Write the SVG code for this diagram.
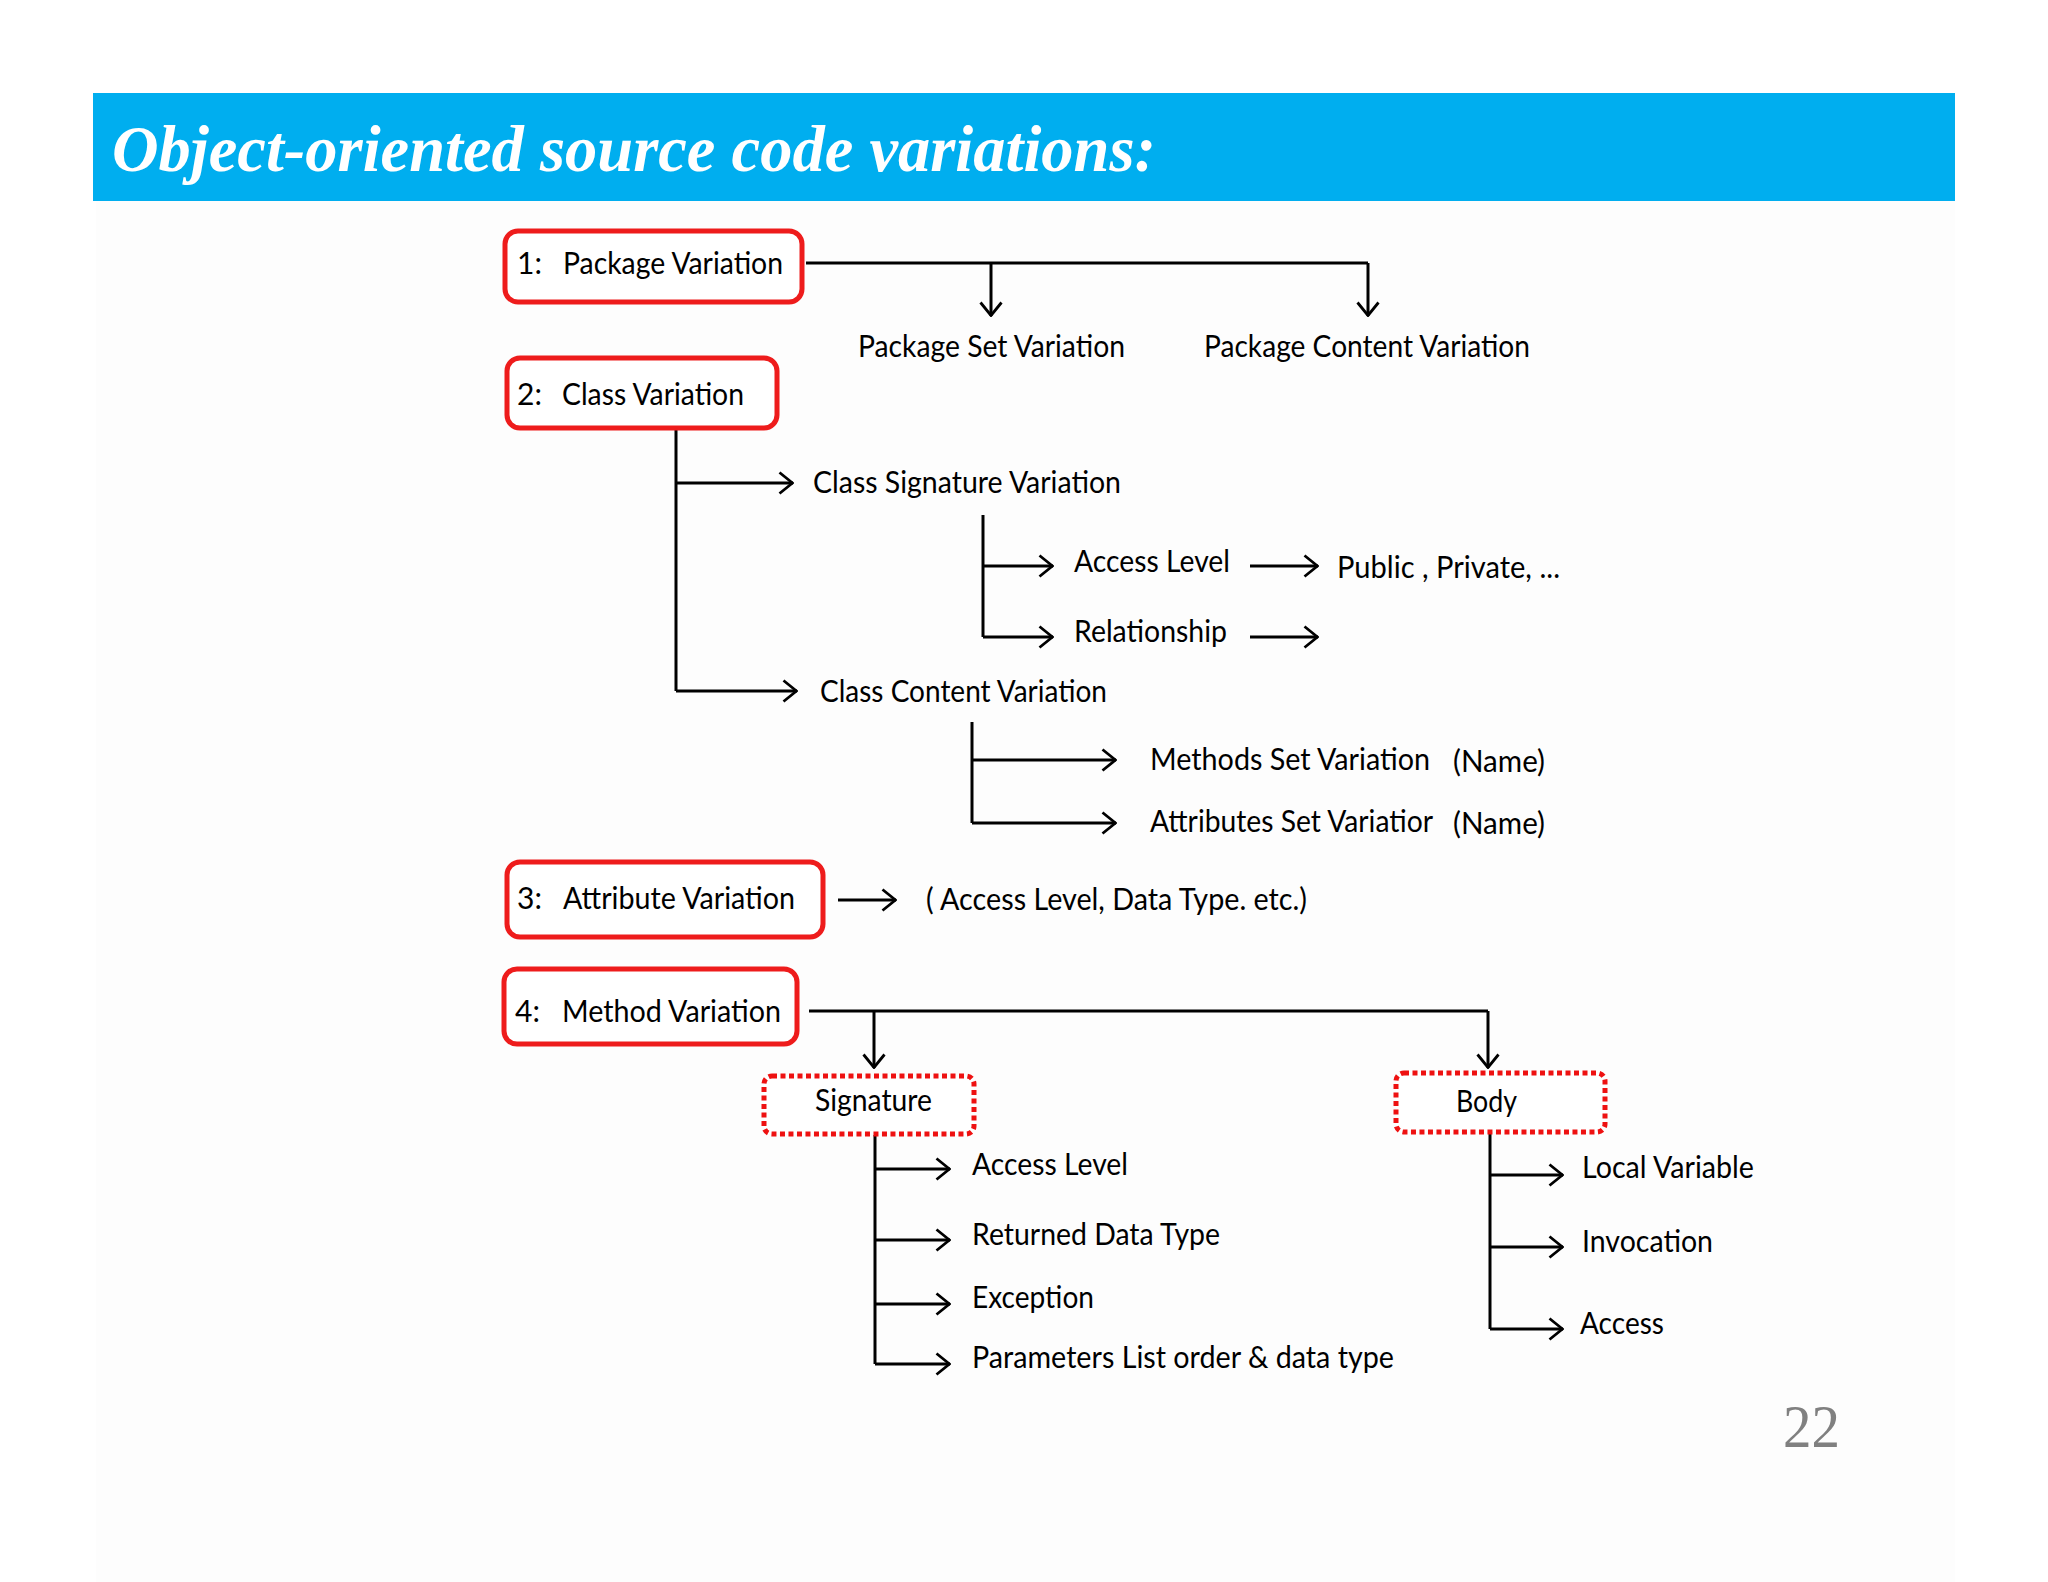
<svg xmlns="http://www.w3.org/2000/svg" width="2048" height="1582" viewBox="0 0 2048 1582">
<style>
.t{font-family:Lato,"Open Sans","Liberation Sans",sans-serif;font-size:30px;fill:#000}
.box{fill:#fff;stroke:#ee1c1c;stroke-width:5}
.dbox{fill:#fff;stroke:#ee1111;stroke-width:5;stroke-dasharray:5 3.5}
.c{fill:none;stroke:#000;stroke-width:3}
.ca{fill:none;stroke:#000;stroke-width:3;marker-end:url(#ah)}
</style>
<defs>
<marker id="ah" viewBox="0 0 16 24" refX="15" refY="12" markerWidth="16" markerHeight="24" markerUnits="userSpaceOnUse" orient="auto">
<path d="M1.5,1.5 L14.5,12 L1.5,22.5" fill="none" stroke="#000" stroke-width="2.8"/>
</marker>
</defs>
<rect x="0" y="0" width="2048" height="1582" fill="#fff"/>
<rect x="96" y="201" width="1859" height="1381" fill="#fdfdfd"/>
<g id="banner">
<rect x="93" y="93" width="1862" height="108" fill="#00aeef"/>
<text x="112" y="171" font-family="'Liberation Serif','Times New Roman',serif" font-size="66" font-weight="bold" font-style="italic" fill="#fff" textLength="1044" lengthAdjust="spacingAndGlyphs">Object-oriented source code variations:</text>
</g>
<g id="connectors">
<path class="c" d="M806,263 H1368"/>
<path class="ca" d="M991,263 V316"/>
<path class="ca" d="M1368,263 V316"/>
<path class="c" d="M676,428 V691"/>
<path class="ca" d="M676,483 H793"/>
<path class="ca" d="M676,691 H797"/>
<path class="c" d="M983,515 V637"/>
<path class="ca" d="M983,566 H1053"/>
<path class="ca" d="M983,637 H1053"/>
<path class="ca" d="M1250,566 H1318"/>
<path class="ca" d="M1250,637 H1318"/>
<path class="c" d="M972,722 V823"/>
<path class="ca" d="M972,760 H1116"/>
<path class="ca" d="M972,823 H1116"/>
<path class="ca" d="M838,900 H896"/>
<path class="c" d="M809,1011 H1488"/>
<path class="ca" d="M874,1011 V1068"/>
<path class="ca" d="M1488,1011 V1068"/>
<path class="c" d="M875,1135 V1364"/>
<path class="ca" d="M875,1169 H950"/>
<path class="ca" d="M875,1240 H950"/>
<path class="ca" d="M875,1304 H950"/>
<path class="ca" d="M875,1364 H950"/>
<path class="c" d="M1490,1132 V1329"/>
<path class="ca" d="M1490,1175 H1563"/>
<path class="ca" d="M1490,1247 H1563"/>
<path class="ca" d="M1490,1329 H1563"/>
</g>
<g id="n1">
<rect class="box" x="505" y="231" width="297" height="71" rx="13"/>
<text class="t" x="517" y="274">1:</text>
<text class="t" x="563" y="274" textLength="220" lengthAdjust="spacingAndGlyphs">Package Variation</text>
</g>
<g id="n1a"><text class="t" x="858" y="357" textLength="267" lengthAdjust="spacingAndGlyphs">Package Set Variation</text></g>
<g id="n1b"><text class="t" x="1204" y="357" textLength="326" lengthAdjust="spacingAndGlyphs">Package Content Variation</text></g>
<g id="n2">
<rect class="box" x="507" y="358" width="270" height="70" rx="13"/>
<text class="t" x="517" y="405">2:</text>
<text class="t" x="562" y="405" textLength="182" lengthAdjust="spacingAndGlyphs">Class Variation</text>
</g>
<g id="n2a"><text class="t" x="813" y="493" textLength="308" lengthAdjust="spacingAndGlyphs">Class Signature Variation</text></g>
<g id="n2a1"><text class="t" x="1074" y="572" textLength="156" lengthAdjust="spacingAndGlyphs">Access Level</text></g>
<g id="n2a1v"><text class="t" x="1337" y="578" textLength="223" lengthAdjust="spacingAndGlyphs">Public , Private, ...</text></g>
<g id="n2a2"><text class="t" x="1074" y="642" textLength="153" lengthAdjust="spacingAndGlyphs">Relationship</text></g>
<g id="n2b"><text class="t" x="820" y="702" textLength="287" lengthAdjust="spacingAndGlyphs">Class Content Variation</text></g>
<g id="n2b1">
<text class="t" x="1150" y="770" textLength="280" lengthAdjust="spacingAndGlyphs">Methods Set Variation</text>
<text class="t" x="1453" y="772" textLength="92" lengthAdjust="spacingAndGlyphs">(Name)</text>
</g>
<g id="n2b2">
<text class="t" x="1150" y="832" textLength="283" lengthAdjust="spacingAndGlyphs">Attributes Set Variatior</text>
<text class="t" x="1453" y="834" textLength="92" lengthAdjust="spacingAndGlyphs">(Name)</text>
</g>
<g id="n3">
<rect class="box" x="507" y="862" width="316" height="75" rx="13"/>
<text class="t" x="517" y="909">3:</text>
<text class="t" x="563" y="909" textLength="232" lengthAdjust="spacingAndGlyphs">Attribute Variation</text>
</g>
<g id="n3a"><text class="t" x="926" y="910" textLength="381" lengthAdjust="spacingAndGlyphs">( Access Level, Data Type. etc.)</text></g>
<g id="n4">
<rect class="box" x="504" y="969" width="293" height="75" rx="13"/>
<text class="t" x="515" y="1022">4:</text>
<text class="t" x="562" y="1022" textLength="219" lengthAdjust="spacingAndGlyphs">Method Variation</text>
</g>
<g id="sig">
<rect class="dbox" x="764" y="1076" width="210" height="58" rx="8"/>
<text class="t" x="815" y="1111" textLength="117" lengthAdjust="spacingAndGlyphs">Signature</text>
</g>
<g id="s1"><text class="t" x="972" y="1175" textLength="156" lengthAdjust="spacingAndGlyphs">Access Level</text></g>
<g id="s2"><text class="t" x="972" y="1245" textLength="248" lengthAdjust="spacingAndGlyphs">Returned Data Type</text></g>
<g id="s3"><text class="t" x="972" y="1308" textLength="122" lengthAdjust="spacingAndGlyphs">Exception</text></g>
<g id="s4"><text class="t" x="972" y="1368" textLength="422" lengthAdjust="spacingAndGlyphs">Parameters List order &amp; data type</text></g>
<g id="body">
<rect class="dbox" x="1396" y="1073" width="209" height="59" rx="8"/>
<text class="t" x="1456" y="1112" textLength="61" lengthAdjust="spacingAndGlyphs">Body</text>
</g>
<g id="b1"><text class="t" x="1582" y="1178" textLength="172" lengthAdjust="spacingAndGlyphs">Local Variable</text></g>
<g id="b2"><text class="t" x="1582" y="1252" textLength="131" lengthAdjust="spacingAndGlyphs">Invocation</text></g>
<g id="b3"><text class="t" x="1580" y="1334" textLength="84" lengthAdjust="spacingAndGlyphs">Access</text></g>
<g id="page"><text x="1783" y="1447" font-family="'Liberation Serif','Times New Roman',serif" font-size="62" fill="#808080" textLength="57" lengthAdjust="spacingAndGlyphs">22</text></g>
</svg>
